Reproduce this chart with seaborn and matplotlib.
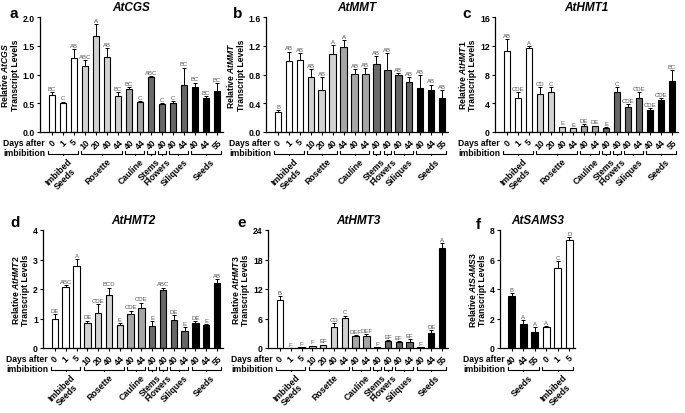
import numpy as np
import matplotlib
matplotlib.use("Agg")
import matplotlib.pyplot as plt
import matplotlib.transforms as mtransforms
import seaborn as sns

# x categories
days = ["0", "1", "5", "10", "20", "40", "44", "40", "44", "40", "40", "40", "44", "40", "44", "55"]
tissues = ["Imbibed\nSeeds", "Rosette", "Cauline", "Stems", "Flowers", "Siliques", "Seeds"]
tissue_sizes = [3, 4, 2, 1, 1, 2, 3]
tissue_sizes_b = [3, 3, 3, 1, 1, 2, 3]
tissue_colors = ["white", "#d2d2d2", "#a6a6a6", "#6a6a6a", "#666666", "#666666", "black"]

# AtCGS
cgs_mean = [0.65, 0.51, 1.29, 1.15, 1.67, 1.31, 0.63, 0.75, 0.52, 0.95, 0.49, 0.50, 0.82, 0.78, 0.59, 0.72]
cgs_err = [0.05, 0.02, 0.15, 0.10, 0.20, 0.15, 0.06, 0.03, 0.02, 0.03, 0.02, 0.04, 0.30, 0.08, 0.04, 0.13]
cgs_sig = ["BC", "C", "AB", "ABC", "A", "AB", "BC", "BC", "C", "ABC", "C", "C", "BC", "BC", "BC", "BC"]

# AtMMT
mmt_mean = [0.28, 0.99, 1.00, 0.76, 0.59, 1.09, 1.18, 0.81, 0.81, 0.95, 0.86, 0.80, 0.69, 0.61, 0.58, 0.48]
mmt_err = [0.02, 0.13, 0.10, 0.12, 0.18, 0.12, 0.10, 0.06, 0.08, 0.11, 0.24, 0.02, 0.07, 0.18, 0.08, 0.10]
mmt_sig = ["B", "AB", "AB", "AB", "AB", "A", "A", "AB", "AB", "AB", "AB", "AB", "AB", "AB", "AB", "AB"]

# AtHMT1
hmt1_mean = [11.3, 4.7, 11.7, 5.3, 5.5, 0.7, 0.5, 0.9, 0.8, 0.5, 5.6, 3.5, 4.7, 3.0, 4.5, 7.1]
hmt1_err = [1.6, 0.8, 0.2, 1.0, 0.7, 0.05, 0.05, 0.2, 0.1, 0.2, 0.7, 0.4, 0.9, 0.3, 0.2, 1.5]
hmt1_sig = ["AB", "CDE", "A", "CD", "C", "E", "E", "DE", "DE", "E", "C", "CDE", "CDE", "CDE", "CDE", "BC"]

# AtHMT2
hmt2_mean = [1.00, 2.08, 2.78, 0.85, 1.18, 1.80, 0.78, 1.15, 1.37, 0.75, 1.98, 0.95, 0.58, 0.85, 0.78, 2.20]
hmt2_err = [0.15, 0.05, 0.25, 0.08, 0.30, 0.25, 0.07, 0.12, 0.17, 0.17, 0.07, 0.17, 0.12, 0.07, 0.03, 0.15]
hmt2_sig = ["DE", "ABC", "A", "DE", "CDE", "BCD", "E", "CDE", "CDE", "E", "ABC", "DE", "E", "DE", "E", "AB"]

# AtHMT3
hmt3_mean = [9.8, 0.0, 0.15, 0.4, 0.6, 4.2, 6.1, 2.5, 2.4, 0.2, 1.4, 1.3, 1.3, 0.2, 3.1, 20.3]
hmt3_err = [0.7, 0.0, 0.05, 0.1, 0.1, 0.8, 0.5, 0.2, 0.4, 0.05, 0.2, 0.2, 0.5, 0.05, 0.6, 1.0]
hmt3_sig = ["B", "F", "F", "F", "EF", "CD", "C", "DEF", "DEF", "F", "EF", "EF", "EF", "F", "DE", "A"]

# AtSAMS3
sams_days = ["40", "44", "55", "0", "1", "5"]
sams_tissues = ["Seeds", "Imbibed\nSeeds"]
sams_sizes = [3, 3]
sams_colors = ["black", "white"]
sams_mean = [3.55, 1.6, 1.1, 1.4, 5.4, 7.35]
sams_err = [0.2, 0.3, 0.3, 0.1, 0.5, 0.15]
sams_sig = ["B", "A", "A", "A", "C", "D"]

plt.rcParams["font.family"] = ["Liberation Sans", "DejaVu Sans"]
plt.rcParams["font.weight"] = "bold"
plt.rcParams["mathtext.fontset"] = "custom"
plt.rcParams["mathtext.it"] = "Liberation Sans:italic:bold"
plt.rcParams["mathtext.rm"] = "Liberation Sans:bold"

W, H = 6.85, 4.14
fig = plt.figure(figsize=(W, H), dpi=100)


def px_axes(l, r, t, b):
    return fig.add_axes([l / 685, 1 - b / 414, (r - l) / 685, (b - t) / 414])


def panel(ax, letter, lpos, gene, means, errs, sig, ticks, groups, sizes, colors,
          ymax, ystep, fmt, xlim):
    n = len(means)
    bar_colors = []
    for c, s in zip(colors, sizes):
        bar_colors += [c] * s
    idx = [str(i) for i in range(n)]
    sns.barplot(x=idx, y=means, hue=idx, palette=bar_colors, legend=False,
                edgecolor="black", linewidth=0.8, width=0.6, ax=ax)
    ax.errorbar(range(n), means, yerr=[np.zeros(n), errs], fmt="none",
                ecolor="black", elinewidth=0.7, capsize=1.6, capthick=0.7)
    for i in range(n):
        ax.annotate(sig[i], (i, means[i] + errs[i]), xytext=(0, 0.8), textcoords="offset points",
                    ha="center", va="bottom", fontsize=4.3, color="#555555", fontweight="normal")
    sns.despine(ax=ax)
    ax.set_xlim(*xlim)
    ax.set_ylim(0, ymax)
    yt = np.arange(0, ymax + ystep / 2, ystep)
    ax.set_yticks(yt)
    ax.set_yticklabels([fmt.format(v) for v in yt], fontsize=6.2, fontweight="bold")
    ax.set_xticks(range(n))
    ax.set_xticklabels(ticks, rotation=45, ha="center", fontsize=6.2, fontweight="bold")
    ax.tick_params(axis="both", length=2.5, width=0.8, pad=1.2)
    ax.spines["left"].set_linewidth(0.9)
    ax.spines["bottom"].set_linewidth(0.9)
    ax.set_xlabel("")
    ax.set_ylabel("Relative $\\mathit{" + gene + "}$\nTranscript Levels",
                  fontsize=6.2, fontweight="bold", labelpad=2, linespacing=1.05)
    ax.set_title(gene, fontsize=8.5, fontweight="bold", fontstyle="italic", pad=5)
    fig.text(lpos[0] / 685, 1 - lpos[1] / 414, letter, fontsize=11, fontweight="bold",
             ha="center", va="center")

    pos = ax.get_position()
    y0 = pos.y0 * H
    fig.text(pos.x0 - 37 / 685, pos.y0 - 6 / 414, "Days after\nimbibition", fontsize=6.2,
             fontweight="bold", ha="left", va="top", linespacing=1.2)
    tr = mtransforms.blended_transform_factory(ax.transData, fig.dpi_scale_trans)
    start = 0
    for name, s in zip(groups, sizes):
        a, b = start - 0.35, start + s - 1 + 0.35
        yb = y0 - 0.215
        ax.plot([a, a, b, b], [yb + 0.025, yb, yb, yb + 0.025], color="black", lw=0.8,
                transform=tr, clip_on=False)
        c = (a + b) / 2
        ax.plot([c, c], [yb, yb - 0.015], color="black", lw=0.8, transform=tr, clip_on=False)
        ax.text(c + 0.4, yb - 0.03, name, transform=tr, rotation=45, rotation_mode="anchor",
                ha="right", va="top", fontsize=6.3, fontweight="bold", multialignment="center",
                linespacing=1.0)
        start += s


ax = px_axes(40, 223, 18, 133)
panel(ax, "a", (14, 14), "AtCGS", cgs_mean, cgs_err, cgs_sig, days, tissues, tissue_sizes,
      tissue_colors, 2.0, 0.5, "{:.1f}", (-1.1, 15.55))
ax = px_axes(266, 448, 18, 133)
panel(ax, "b", (238, 14), "AtMMT", mmt_mean, mmt_err, mmt_sig, days, tissues, tissue_sizes_b,
      tissue_colors, 1.6, 0.4, "{:.1f}", (-1.1, 15.55))
ax = px_axes(495, 678, 18, 133)
panel(ax, "c", (467, 14), "AtHMT1", hmt1_mean, hmt1_err, hmt1_sig, days, tissues, tissue_sizes,
      tissue_colors, 16, 4, "{:.0f}", (-1.1, 15.55))
ax = px_axes(43, 223, 231, 349)
panel(ax, "d", (15, 223), "AtHMT2", hmt2_mean, hmt2_err, hmt2_sig, days, tissues, tissue_sizes,
      tissue_colors, 4, 1, "{:.0f}", (-1.1, 15.55))
ax = px_axes(268, 448, 231, 349)
panel(ax, "e", (242, 223), "AtHMT3", hmt3_mean, hmt3_err, hmt3_sig, days, tissues, tissue_sizes,
      tissue_colors, 24, 6, "{:.0f}", (-1.1, 15.55))
ax = px_axes(500, 575, 231, 349)
panel(ax, "f", (478, 225), "AtSAMS3", sams_mean, sams_err, sams_sig, sams_days, sams_tissues,
      sams_sizes, sams_colors, 8, 2, "{:.0f}", (-1.0, 5.5))

fig.savefig("out.png", dpi=100)
